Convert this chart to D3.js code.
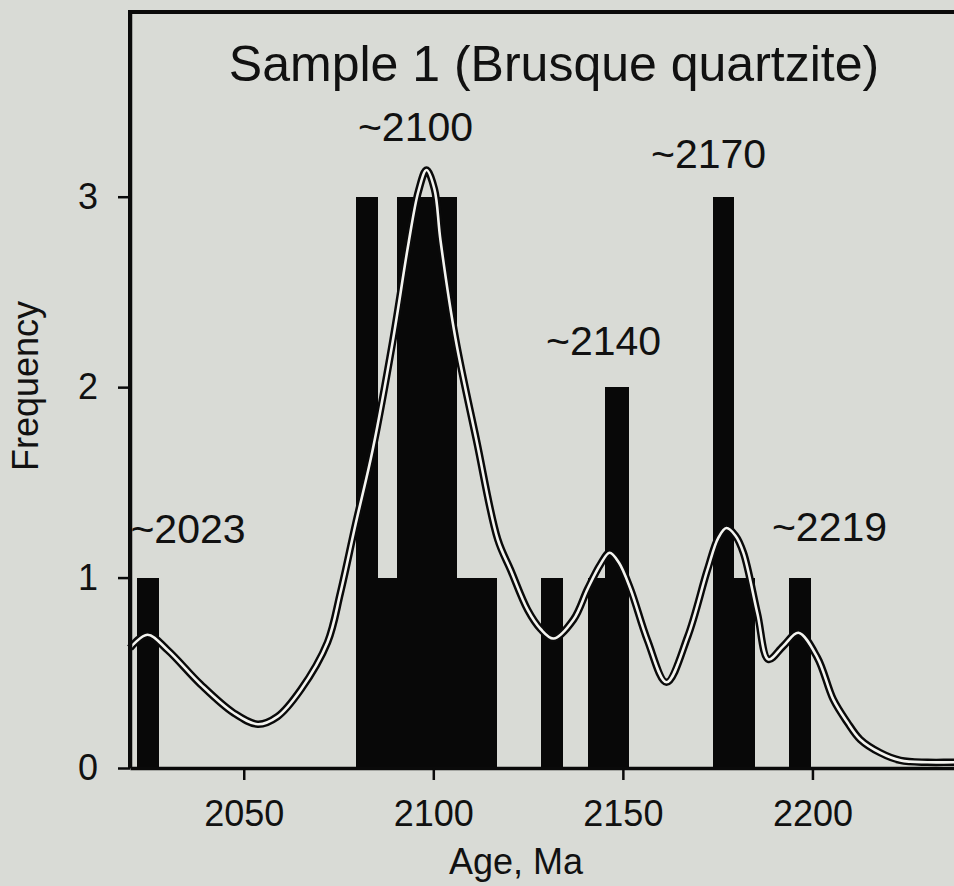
<!DOCTYPE html>
<html>
<head>
<meta charset="utf-8">
<script src="https://cdn.jsdelivr.net/npm/d3@7"></script>
<style>
  html, body { margin: 0; padding: 0; background: #d9dbd6; }
  svg { display: block; }
  text { font-family: "Liberation Sans", Arial, Helvetica, sans-serif; fill: #111; }
</style>
</head>
<body>
<svg id="chart" width="954" height="886"></svg>
<script>
// ---------- data ----------
const titleText = "Sample 1 (Brusque quartzite)";
const xLabel = "Age, Ma";
const yLabel = "Frequency";

// histogram bins (Ma) and counts
const binStart = [2021.8, 2079.5, 2085.3, 2090.3, 2106.1, 2128.5, 2140.7, 2145.4, 2173.9, 2179.2, 2193.7];
const binEnd   = [2027.6, 2085.3, 2090.3, 2106.1, 2116.7, 2134.1, 2145.4, 2151.5, 2179.2, 2184.7, 2199.5];
const binCount = [1, 3, 1, 3, 1, 1, 1, 2, 3, 1, 1];

// probability density curve
const curveAge = [2020, 2024.6, 2029.9, 2038.6, 2047.3, 2053.7, 2058.9, 2065.0, 2072.1, 2075.5, 2079.5, 2084.0,
  2089.3, 2093.5, 2096.1, 2098.2, 2100.3, 2101.9, 2105.9, 2111.4, 2117.0, 2120.4, 2124.9, 2128.3, 2131.7,
  2137.0, 2140.7, 2144.1, 2146.5, 2148.9, 2152.0, 2156.5, 2161.5, 2167.1, 2172.3, 2175.2, 2177.3, 2179.7,
  2181.8, 2185.5, 2188.4, 2192.3, 2196.3, 2201.3, 2205.5, 2209.2, 2212.6, 2217.9, 2223.2, 2230.3, 2237.2, 2250];
const curveFreq = [0.63, 0.70, 0.62, 0.44, 0.29, 0.23, 0.27, 0.41, 0.66, 0.92, 1.28, 1.67,
  2.24, 2.76, 3.03, 3.14, 3.04, 2.77, 2.25, 1.72, 1.20, 1.04, 0.83, 0.73, 0.68,
  0.78, 0.94, 1.07, 1.13, 1.08, 0.94, 0.67, 0.45, 0.69, 1.04, 1.21, 1.26, 1.22,
  1.13, 0.81, 0.57, 0.64, 0.71, 0.58, 0.36, 0.24, 0.15, 0.08, 0.04, 0.03, 0.03, 0.03];

// peak annotations: text, age of label centre, frequency of label baseline
const peakText = ["~2023", "~2100", "~2140", "~2170", "~2219"];
const peakAge  = [2035.3, 2095.3, 2144.9, 2172.6, 2204.5];
const peakFreq = [1.18, 3.29, 2.17, 3.15, 1.19];

const xTicks = [2050, 2100, 2150, 2200];
const yTicks = [0, 1, 2, 3];
const xDomain = [2020, 2250];
const yDomain = [0, 3.97];

// ---------- layout ----------
const svg = d3.select("#chart");
const mLeft = 130, mRight = 1002, mTop = 12, mBottom = 768;

const x = d3.scaleLinear().domain(xDomain).range([mLeft, mRight]);
const y = d3.scaleLinear().domain(yDomain).range([mBottom, mTop]);

svg.append("rect").attr("width", 954).attr("height", 886).attr("fill", "#d9dbd6");

// bars
const bins = binStart.map((s, i) => ({ s, e: binEnd[i], c: binCount[i] }));
svg.append("g").selectAll("rect").data(bins).join("rect")
  .attr("x", d => x(d.s))
  .attr("width", d => x(d.e) - x(d.s) + 0.5)
  .attr("y", d => y(d.c))
  .attr("height", d => y(0) - y(d.c))
  .attr("fill", "#080808")
  .attr("shape-rendering", "crispEdges");

// curve (double line: black outline, white core)
const pts = curveAge.map((a, i) => [a, curveFreq[i]]);
const line = d3.line().x(d => x(d[0])).y(d => y(d[1])).curve(d3.curveCatmullRom.alpha(0.5));
svg.append("path").attr("d", line(pts)).attr("fill", "none")
  .attr("stroke", "#0a0a0a").attr("stroke-width", 7.5).attr("stroke-linejoin", "round");
svg.append("path").attr("d", line(pts)).attr("fill", "none")
  .attr("stroke", "#f4f4f0").attr("stroke-width", 2.6).attr("stroke-linejoin", "round");

// frame (top and left)
svg.append("path")
  .attr("d", `M${mRight + 10},${mTop} H${mLeft} V${mBottom}`)
  .attr("fill", "none").attr("stroke", "#0a0a0a").attr("stroke-width", 4);

// axes
const xAxis = d3.axisBottom(x).tickValues(xTicks).tickFormat(d3.format("d"))
  .tickSize(12).tickSizeOuter(0).tickPadding(20);
const gx = svg.append("g").attr("transform", `translate(0,${mBottom})`).call(xAxis);
gx.select(".domain").attr("stroke", "#0a0a0a").attr("stroke-width", 3.5);
gx.selectAll(".tick line").attr("stroke", "#0a0a0a").attr("stroke-width", 2.5);
gx.selectAll(".tick text").style("font-size", "36px").attr("fill", "#111")
  .style("font-family", '"Liberation Sans", Arial, sans-serif');

const yAxis = d3.axisLeft(y).tickValues(yTicks).tickFormat(d3.format("d"))
  .tickSize(12).tickSizeOuter(0).tickPadding(20);
const gy = svg.append("g").attr("transform", `translate(${mLeft},0)`).call(yAxis);
gy.select(".domain").attr("stroke", "#0a0a0a").attr("stroke-width", 3.5);
gy.selectAll(".tick line").attr("stroke", "#0a0a0a").attr("stroke-width", 2.5);
gy.selectAll(".tick text").style("font-size", "36px").attr("fill", "#111")
  .style("font-family", '"Liberation Sans", Arial, sans-serif');

// peak labels
svg.append("g").selectAll("text").data(peakText).join("text")
  .attr("x", (d, i) => x(peakAge[i]))
  .attr("y", (d, i) => y(peakFreq[i]))
  .attr("text-anchor", "middle")
  .style("font-size", "41px")
  .text(d => d);

// title and axis titles
svg.append("text").attr("x", 554).attr("y", 81).attr("text-anchor", "middle")
  .style("font-size", "50px").text(titleText);
svg.append("text").attr("x", 516).attr("y", 874).attr("text-anchor", "middle")
  .style("font-size", "36px").text(xLabel);
svg.append("text").attr("transform", "translate(38,386) rotate(-90)").attr("text-anchor", "middle")
  .style("font-size", "36px").text(yLabel);
</script>
</body>
</html>
